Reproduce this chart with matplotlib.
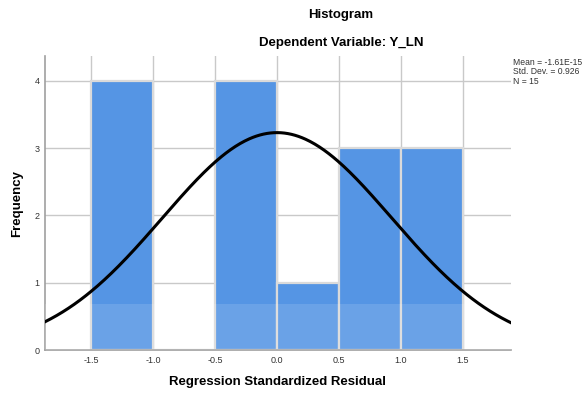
import numpy as np
import matplotlib.pyplot as plt

plt.rcParams['font.family'] = ['Liberation Sans', 'DejaVu Sans']

# histogram of standardized residuals
bin_edges = [-1.5, -1.0, -0.5, 0.0, 0.5, 1.0, 1.5]
counts = [4, 0, 4, 1, 3, 3]

mean = -1.61e-15
std_dev = 0.926
n = 15

x_ticks = [-1.5, -1.0, -0.5, 0.0, 0.5, 1.0, 1.5]
y_ticks = [0, 1, 2, 3, 4]

fig = plt.figure(figsize=(5.86, 3.93), dpi=100)
ax = fig.add_axes([0.0768, 0.1094, 0.7952, 0.7481])

lefts = bin_edges[:-1]
widths = np.diff(bin_edges)
ax.bar(lefts, counts, width=widths, align='edge', color='#5595e4',
       edgecolor='#dadada', linewidth=1.6, zorder=2)

# faint watermark band over lower part of the bars
ax.axhspan(0, 0.68, xmin=0, xmax=1, color='white', alpha=0.13, lw=0, zorder=3)

# normal curve scaled to counts
xs = np.linspace(-1.871, 1.887, 400)
bw = widths[0]
ys = n * bw / (std_dev * np.sqrt(2 * np.pi)) * np.exp(-0.5 * ((xs - mean) / std_dev) ** 2)
ax.plot(xs, ys, color='black', lw=2.2, zorder=4)

ax.set_xlim(-1.871, 1.887)
ax.set_ylim(0, 4.37)
ax.set_xticks(x_ticks)
ax.set_xticklabels([f'{t:.1f}' for t in x_ticks])
ax.set_yticks(y_ticks)
ax.grid(True, color='#c9c9c9', lw=1.0, zorder=0)
ax.set_axisbelow(True)
ax.tick_params(length=0, labelsize=6.5, colors='#333333', pad=4)

for s in ['top', 'right']:
    ax.spines[s].set_visible(False)
for s in ['left', 'bottom']:
    ax.spines[s].set_color('#a0a0a0')
    ax.spines[s].set_linewidth(1.2)

ax.set_xlabel('Regression Standardized Residual', fontsize=9.5, fontweight='bold', labelpad=8)
ax.set_ylabel('Frequency', fontsize=9.5, fontweight='bold', labelpad=8)

fig.text(0.582, 0.962, 'Histogram', ha='center', va='center', fontsize=9.5, fontweight='bold')
fig.text(0.582, 0.89, 'Dependent Variable: Y_LN', ha='center', va='center', fontsize=9.5, fontweight='bold')

fig.text(0.876, 0.817, f'Mean = -1.61E-15\nStd. Dev. = {std_dev}\nN = {n}',
         ha='left', va='center', fontsize=6.2, color='#333333', linespacing=1.05)

plt.savefig('out.png', dpi=100)
